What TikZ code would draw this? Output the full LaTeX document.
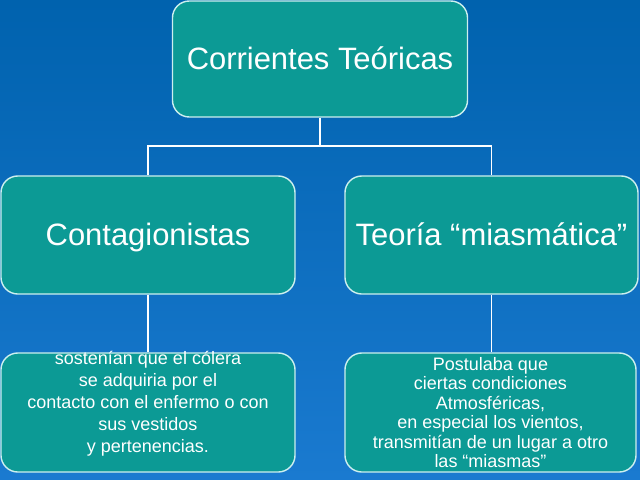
\documentclass[tikz,border=0pt]{standalone}
\usepackage{fontspec}
\setmainfont{Liberation Sans}
\usetikzlibrary{positioning}
\definecolor{bgtop}{HTML}{0062AE}
\definecolor{bgbottom}{HTML}{1A7AD0}
\definecolor{teal}{HTML}{0C9A95}
\definecolor{rim}{HTML}{CDEFEF}
\tikzset{
  box/.style={draw=rim, line width=1pt, fill=teal, rounded corners=12pt,
    text=white, inner sep=0pt},
  headbox/.style={box, font=\fontsize{22}{26}\selectfont, text height=18pt, text depth=3pt},
  notetext/.style={text=white, align=center, inner sep=0pt},
  link/.style={draw=white, line width=1.4pt}
}

\begin{document}
\begin{tikzpicture}[x=0.025cm,y=-0.025cm]
% background:
\shade[top color=bgtop, bottom color=bgbottom] (0,0) rectangle (640,480);
\useasboundingbox (0,0) rectangle (640,480);
% boxes:
\node[headbox, minimum width=7.375cm, minimum height=2.9cm] (corrientes) at (320,59) {Corrientes Teóricas};
\node[headbox, minimum width=7.35cm, minimum height=2.95cm] (contag) at (148,235) {Contagionistas};
\node[headbox, minimum width=7.325cm, minimum height=2.95cm] (miasma) at (491.5,235) {Teoría “miasmática”};
\node[box, minimum width=7.35cm, minimum height=2.975cm] (contagnote) at (148,412.5) {};
\node[box, minimum width=7.275cm, minimum height=2.975cm, font=\fontsize{12.8}{13.9}\selectfont,
      align=center] (miasmanote) at (490.5,412.5)
  {Postulaba que\\ciertas condiciones\\Atmosféricas,\\en especial los vientos,\\
   transmitían de un lugar a otro\\las “miasmas”};
\node[notetext, anchor=north, font=\fontsize{12.8}{15.6}\selectfont] (contagtext) at (148,351)
  {sostenían que el cólera\\se adquiria por el\\contacto con el enfermo o con\\sus vestidos\\y pertenencias.};
% connectors:
\coordinate (split) at (320,146);
\draw[link] (corrientes.south) -- (split);
\draw[link] (contag.north) |- (split) -| (miasma.north);
\draw[link] (contag.south) -- (contagnote.north);
\draw[link] (miasma.south) -- (miasma.south |- miasmanote.north);
\end{tikzpicture}
\end{document}
